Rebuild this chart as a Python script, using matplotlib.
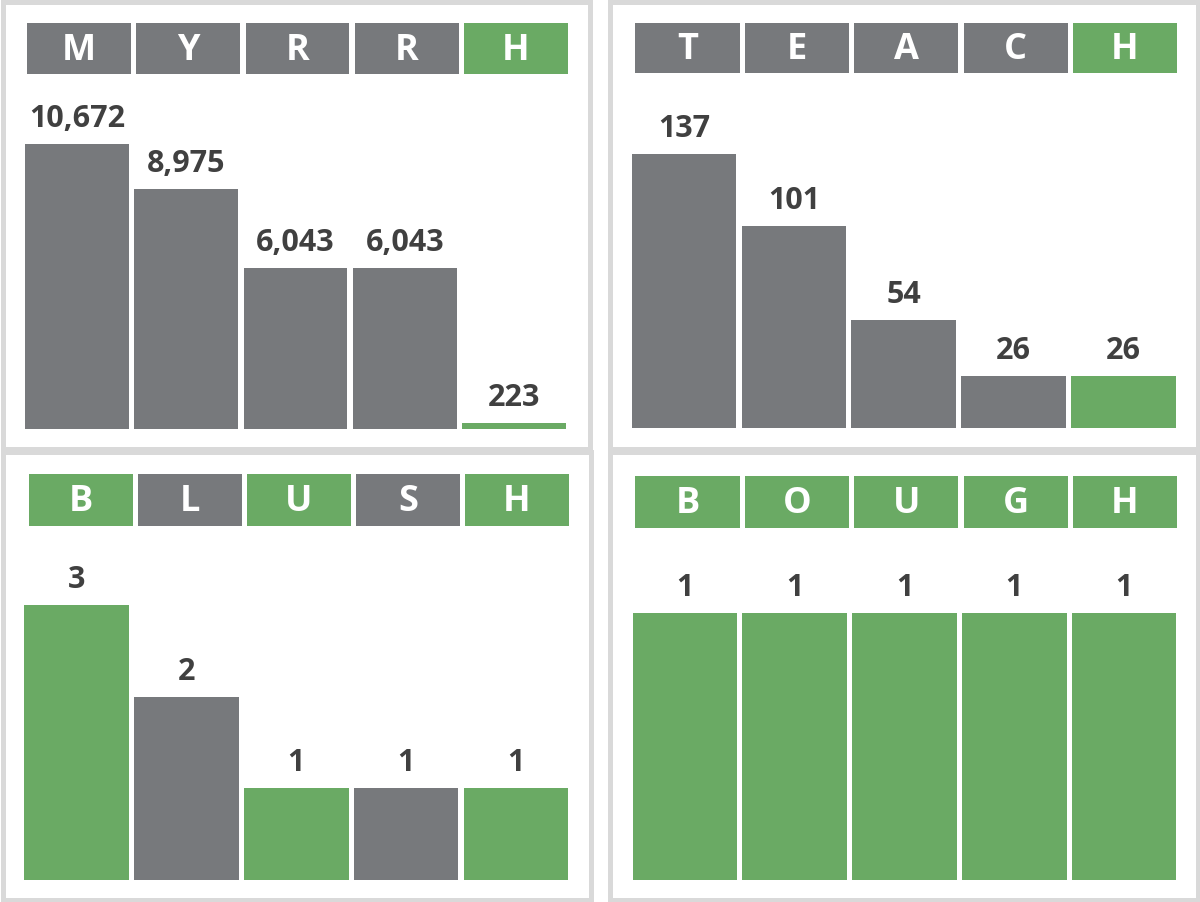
import matplotlib
matplotlib.use("Agg")
import matplotlib.pyplot as plt
from matplotlib.patches import Rectangle

W, H = 1200, 903
GRAY = "#77797c"
GREEN = "#6aaa64"
TEXT = "#404040"
BORDER = "#d9d9d9"

# ---- data ----
words = ["MYRRH", "TEACH", "BLUSH", "BOUGH"]
counts_myrrh = [10672, 8975, 6043, 6043, 223]
counts_teach = [137, 101, 54, 26, 26]
counts_blush = [3, 2, 1, 1, 1]
counts_bough = [1, 1, 1, 1, 1]
# per-letter state: 1 = correct (green), 0 = absent (gray)
state_myrrh = [0, 0, 0, 0, 1]
state_teach = [0, 0, 0, 0, 1]
state_blush = [1, 0, 1, 0, 1]
state_bough = [1, 1, 1, 1, 1]
# bar colours per bar
barcol_myrrh = [0, 0, 0, 0, 1]
barcol_teach = [0, 0, 0, 0, 1]
barcol_blush = [1, 0, 1, 0, 1]
barcol_bough = [1, 1, 1, 1, 1]

counts = [counts_myrrh, counts_teach, counts_blush, counts_bough]
states = [state_myrrh, state_teach, state_blush, state_bough]
barcols = [barcol_myrrh, barcol_teach, barcol_blush, barcol_bough]

# ---- layout (pixels) ----
frames = [(2.5, 589.5, 2.5, 449.5), (609.5, 1197.5, 2.5, 449.5),
          (2.5, 590.5, 452.5, 900.5), (609.5, 1197.5, 452.5, 900.5)]
tiles = [(24.4, 570.6, 24, 75), (632.8, 1179.7, 24, 74),
         (26, 571.6, 475, 527), (632.8, 1179.7, 477, 529)]
bars = [(22.4, 568.6, 145, 430), (629, 1178.5, 155, 429),
        (21.6, 571, 606, 881), (630, 1179, 614, 881)]

fig = plt.figure(figsize=(W / 100, H / 100), dpi=100)
fig.patch.set_facecolor("white")


def rect(l, r, t, b):
    return [l / W, 1 - b / H, (r - l) / W, (b - t) / H]


FONT = "Open Sans"
cmap = {0: GRAY, 1: GREEN}

for i in range(4):
    fx0, fx1, fy0, fy1 = frames[i]
    fig.add_artist(Rectangle((fx0 / W, 1 - fy1 / H), (fx1 - fx0) / W, (fy1 - fy0) / H,
                             transform=fig.transFigure, fill=False,
                             edgecolor=BORDER, linewidth=5 * 72 / 100))

    tl, tr, tt, tb = tiles[i]
    axt = fig.add_axes(rect(tl, tr, tt, tb))
    xs = list(range(5))
    axt.bar(xs, [1] * 5, width=0.952, bottom=0,
            color=[cmap[s] for s in states[i]], linewidth=0)
    for x, ch in zip(xs, words[i]):
        axt.text(x, 0.48, ch, ha="center", va="center", color="white",
                 fontsize=26, fontweight="bold", family=FONT)
    axt.set_xlim(-0.5, 4.5)
    axt.set_ylim(0, 1)
    axt.axis("off")

    bl, br, bt, bb = bars[i]
    axb = fig.add_axes(rect(bl, br, bt, bb))
    vals = counts[i]
    axb.bar(xs, vals, width=0.952, color=[cmap[c] for c in barcols[i]], linewidth=0)
    for x, v in zip(xs, vals):
        axb.annotate(f"{v:,}", (x, v), xytext=(0, 26 * 72 / 100), textcoords="offset points",
                     ha="center", va="center", color=TEXT, fontsize=22,
                     fontweight="bold", family=FONT, annotation_clip=False)
    axb.set_xlim(-0.5, 4.5)
    axb.set_ylim(0, max(vals))
    axb.axis("off")

fig.savefig("out.png", dpi=100, facecolor="white")
